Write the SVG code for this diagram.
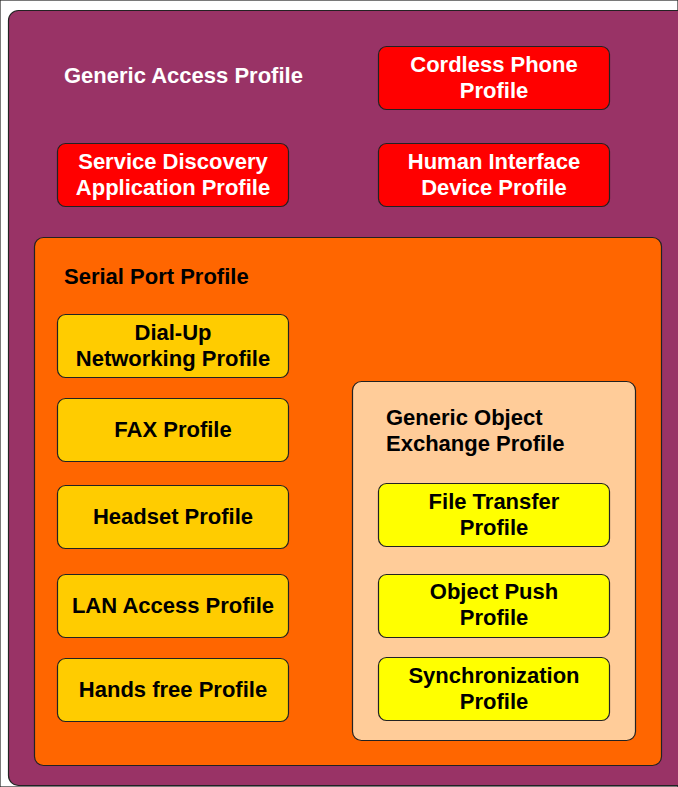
<svg xmlns="http://www.w3.org/2000/svg" width="678" height="787" viewBox="0 0 678 787">
<style>
rect{stroke:#222;stroke-width:1.2}
text{font-family:"Liberation Sans",Arial,sans-serif;font-weight:bold;font-size:22px;text-anchor:middle;fill:#000}
.w{fill:#fff}
.l{text-anchor:start}
.red{fill:#ff0000}
.gold{fill:#ffcc00}
.yel{fill:#ffff00}
</style>
<rect width="678" height="787" fill="#fff" stroke="none"/>
<g id="generic-access">
<rect x="8.5" y="10.5" width="690" height="775" rx="10" fill="#993366"/>
<text class="w l" x="64" y="83">Generic Access Profile</text>
</g>
<g id="cordless">
<rect class="red" x="378.5" y="46.5" width="231" height="63" rx="8"/>
<text class="w" x="494" y="72">Cordless Phone</text>
<text class="w" x="494" y="98">Profile</text>
</g>
<g id="sdap">
<rect class="red" x="57.5" y="143.5" width="231" height="63" rx="8"/>
<text class="w" x="173" y="169">Service Discovery</text>
<text class="w" x="173" y="195">Application Profile</text>
</g>
<g id="hid">
<rect class="red" x="378.5" y="143.5" width="231" height="63" rx="8"/>
<text class="w" x="494" y="169">Human Interface</text>
<text class="w" x="494" y="195">Device Profile</text>
</g>
<g id="serial-port">
<rect x="34.5" y="237.5" width="627" height="528" rx="9" fill="#ff6600"/>
<text class="l" x="64" y="284">Serial Port Profile</text>
</g>
<g id="dialup">
<rect class="gold" x="57.5" y="314.5" width="231" height="63" rx="8"/>
<text x="173" y="340">Dial-Up</text>
<text x="173" y="366">Networking Profile</text>
</g>
<g id="fax">
<rect class="gold" x="57.5" y="398.5" width="231" height="63" rx="8"/>
<text x="173" y="437">FAX Profile</text>
</g>
<g id="headset">
<rect class="gold" x="57.5" y="485.5" width="231" height="63" rx="8"/>
<text x="173" y="524">Headset Profile</text>
</g>
<g id="lan">
<rect class="gold" x="57.5" y="574.5" width="231" height="63" rx="8"/>
<text x="173" y="613">LAN Access Profile</text>
</g>
<g id="handsfree">
<rect class="gold" x="57.5" y="658.5" width="231" height="63" rx="8"/>
<text x="173" y="697">Hands free Profile</text>
</g>
<g id="goep">
<rect x="352.5" y="381.5" width="283" height="359" rx="9" fill="#ffcc99"/>
<text class="l" x="386" y="425">Generic Object</text>
<text class="l" x="386" y="451">Exchange Profile</text>
</g>
<g id="ftp">
<rect class="yel" x="378.5" y="483.5" width="231" height="63" rx="8"/>
<text x="494" y="509">File Transfer</text>
<text x="494" y="535">Profile</text>
</g>
<g id="opp">
<rect class="yel" x="378.5" y="574.5" width="231" height="63" rx="8"/>
<text x="494" y="599">Object Push</text>
<text x="494" y="625">Profile</text>
</g>
<g id="sync">
<rect class="yel" x="378.5" y="657.5" width="231" height="63" rx="8"/>
<text x="494" y="683">Synchronization</text>
<text x="494" y="709">Profile</text>
</g>
<g id="connectors"></g>
</svg>
